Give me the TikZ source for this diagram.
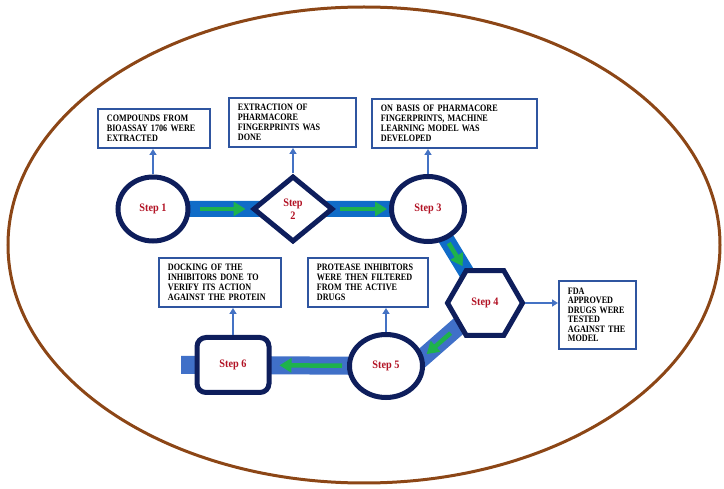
\documentclass[tikz,border=0pt]{standalone}
\usepackage{fontspec}
\setmainfont{Liberation Serif}
\newfontfamily\notefont[FakeStretch=0.83]{Liberation Serif}
\newfontfamily\stagefont[FakeStretch=0.9]{Liberation Serif}
\definecolor{rim}{RGB}{140, 70, 22}
\definecolor{navy}{RGB}{14, 30, 92}
\definecolor{boxblue}{RGB}{47, 85, 160}
\definecolor{lineblue}{RGB}{68, 114, 196}
\definecolor{bandblue}{RGB}{16, 108, 200}
\definecolor{bandlight}{RGB}{64, 112, 200}
\definecolor{flowgreen}{RGB}{30, 178, 76}
\definecolor{stepred}{RGB}{178, 18, 36}
\usetikzlibrary{arrows.meta, shapes.geometric, calc, backgrounds}

\begin{document}
\begin{tikzpicture}[x=1pt, y=-1pt,
        note/.style={draw=boxblue, line width=1.8pt, fill=white, align=left, inner xsep=9pt, inner ysep=0pt, font=\notefont\fontsize{9.8}{10}\selectfont\bfseries},
        stage/.style={draw=navy, line width=5pt, fill=white, inner sep=0pt, align=center, text=stepred, font=\stagefont\fontsize{11.4}{12.5}\selectfont\bfseries},
        band/.style={line width=16pt, color=bandblue},
        lowband/.style={line width=18pt, color=bandlight},
        flow/.style={-{Triangle[length=12pt, width=14pt]}, line width=4.5pt, color=flowgreen},
        arrow/.style={-{Triangle[length=6pt, width=7pt]}, line width=2pt, color=lineblue}
      ]
        \useasboundingbox (0,0) rectangle (724,489);

        \node[stage, ellipse, minimum width=70pt, minimum height=64pt]    (s1) at (153,209) {Step 1};
        \node[stage, diamond, minimum width=80pt, minimum height=66pt]    (s2) at (293,209) {Step\\2};
        \node[stage, ellipse, minimum width=73pt, minimum height=65pt]    (s3) at (428,209) {Step 3};
        \node[stage, regular polygon, regular polygon sides=6, minimum size=75pt] (s4) at (485,303) {Step 4};
        \node[stage, ellipse, minimum width=73pt, minimum height=63pt]    (s5) at (386,366) {Step 5};
        \node[stage, rounded corners=9pt, minimum width=72pt, minimum height=55pt] (s6) at (233,365) {Step 6};

        \node[note, text width=94.2pt,  minimum height=39.2pt] (b1) at (154,128.5) {COMPOUNDS FROM\\BIOASSAY 1706 WERE\\EXTRACTED};
        \node[note, text width=109.2pt, minimum height=49.2pt] (b2) at (292.5,122.5) {EXTRACTION OF\\PHARMACORE\\FINGERPRINTS WAS\\DONE};
        \node[note, text width=147.2pt, minimum height=49.2pt] (b3) at (454.5,123.5) {ON BASIS OF PHARMACORE\\FINGERPRINTS, MACHINE\\LEARNING MODEL WAS\\DEVELOPED};
        \node[note, text width=59.2pt,  minimum height=68.2pt, font=\notefont\fontsize{9.8}{9.5}\selectfont\bfseries] (b4) at (597.5,315) {FDA\\APPROVED\\DRUGS WERE\\TESTED\\AGAINST THE\\MODEL};
        \node[note, text width=102.2pt, minimum height=49.2pt] (b5) at (368,282.5) {PROTEASE INHIBITORS\\WERE THEN FILTERED\\FROM THE ACTIVE\\DRUGS};
        \node[note, text width=104.2pt, minimum height=49.2pt] (b6) at (220,282.5) {DOCKING OF THE\\INHIBITORS DONE TO\\VERIFY ITS ACTION\\AGAINST THE PROTEIN};

        \coordinate (k5)   at (405,373);
        \coordinate (tail) at (181,365);

        \begin{scope}[on background layer]
          \draw[rim, line width=3pt] (364,245) ellipse [x radius=356pt, y radius=238pt];
          \draw[band] (s1.center) -- (s2.center) -- (s3.center) -- (s4.center);
          \draw[lowband] (s4.center) -- (k5);
          \draw[lowband] (s5.center) -- (s6.center) -- (tail);
        \end{scope}

        \draw[flow, shorten <=9pt, shorten >=5pt] (s1) -- (s2);
        \draw[flow, shorten <=4pt, shorten >=2pt] (s2) -- (s3);
        \draw[flow, shorten <=4pt, shorten >=3pt] (s3) -- (s4);
        \draw[flow] ($(s4.center)!0.43!(k5)$) -- ($(s4.center)!0.73!(k5)$);
        \draw[flow, shorten <=5pt, shorten >=8pt] (s5) -- (s6);

        \draw[arrow] (s1.north) -- (s1.north |- b1.south);
        \draw[arrow] (s2.north) -- (s2.north |- b2.south);
        \draw[arrow] (s3.north) -- (s3.north |- b3.south);
        \draw[arrow] (s4.east) -- (s4.east -| b4.west);
        \draw[arrow] (s5.north) -- (s5.north |- b5.south);
        \draw[arrow] (s6.north) -- (s6.north |- b6.south);
      \end{tikzpicture}
\end{document}
